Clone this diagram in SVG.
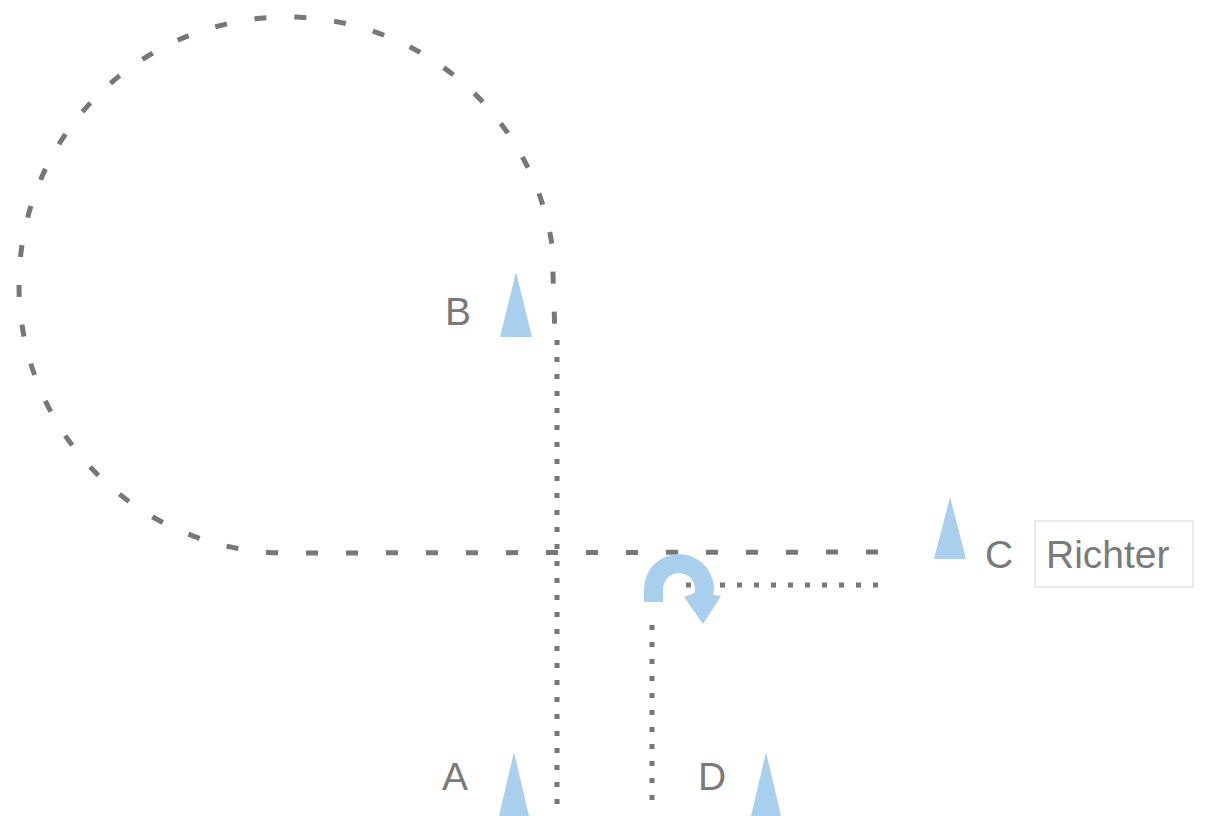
<svg xmlns="http://www.w3.org/2000/svg" width="1205" height="816" viewBox="0 0 1205 816">
<style>
.dash{fill:none;stroke:#777;stroke-width:5;stroke-dasharray:12 28}
.dot{fill:none;stroke:#777;stroke-width:5;stroke-dasharray:5 12}
.tri{fill:#a8cfee}
.lbl{font-family:"Liberation Sans",Arial,sans-serif;font-size:39px;fill:#7a7a7a}
</style>
<rect width="1205" height="816" fill="#fff"/>
<g id="connectors">
<path class="dash" d="M 878 552 L 287 553 A 268 268 0 1 1 552 245 L 555 335"/>
<path class="dot" d="M 557 340 L 557 816"/>
<path class="dot" d="M 652 800 L 652 614"/>
<path class="dot" d="M 878 585 L 676 585"/>
<path fill="#a8cfee" d="M 644 602 L 644 589 A 35 35 0 1 1 713.5 595 L 721 596 L 703 624 L 684 597 L 694.5 593 A 16 16 0 1 0 663 589 L 663 602 Z"/>
</g>
<g id="node-B">
<polygon class="tri" points="516,272 500,337 532,337"/>
<text class="lbl" x="445" y="325">B</text>
</g>
<g id="node-A">
<polygon class="tri" points="514,752 499,816 529,816"/>
<text class="lbl" x="442" y="790">A</text>
</g>
<g id="node-D">
<polygon class="tri" points="766,752 751,816 781,816"/>
<text class="lbl" x="698" y="790">D</text>
</g>
<g id="node-C">
<polygon class="tri" points="950,497 934,559 966,559"/>
<text class="lbl" x="985" y="568">C</text>
<rect x="1035" y="521" width="158" height="66" fill="#fff" stroke="#e2e2e2" stroke-width="1.5"/>
<text class="lbl" x="1046" y="568">Richter</text>
</g>
</svg>
